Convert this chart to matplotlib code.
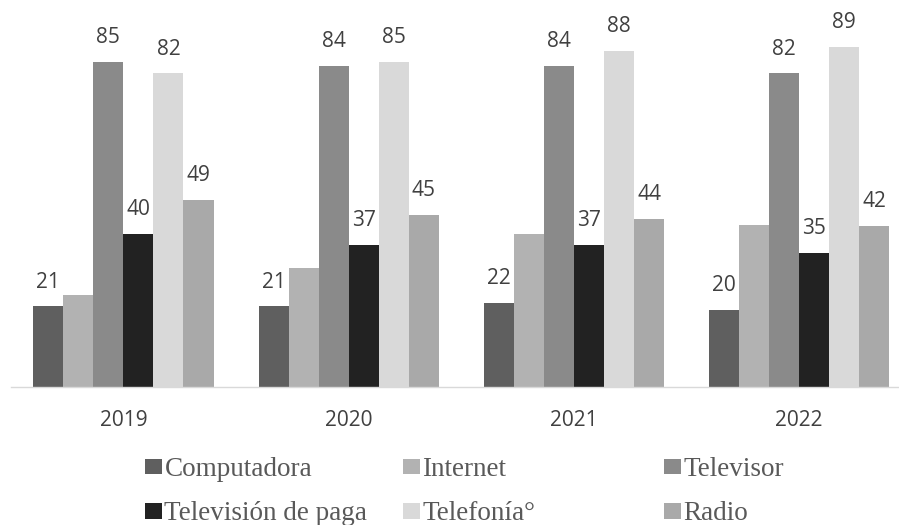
import matplotlib
matplotlib.use("Agg")
import matplotlib.pyplot as plt
from matplotlib.patches import Patch
import numpy as np

years = ["2019", "2020", "2021", "2022"]
series = ["Computadora", "Internet", "Televisor", "Televisión de paga", "Telefonía°", "Radio"]
computadora = [21, 21, 22, 20]
internet = [24, 31.2, 40.1, 42.4]
televisor = [85, 84, 84, 82]
tv_paga = [40, 37, 37, 35]
telefonia = [82, 85, 88, 89]
radio = [49, 45, 44, 42]
values = [computadora, internet, televisor, tv_paga, telefonia, radio]
show_labels = [True, False, True, True, True, True]
colors = ["#5f5f5f", "#b2b2b2", "#8a8a8a", "#222222", "#d9d9d9", "#a9a9a9"]

fig = plt.figure(figsize=(8.99, 5.25), dpi=100)
ax = fig.add_axes([10.8 / 899, 1 - 386.7 / 525, 901 / 899, 382 / 525])

x = np.arange(len(years))
w = 0.8 / len(series)
for i, (vals, c) in enumerate(zip(values, colors)):
    pos = x - 0.4 + w * (i + 0.5)
    ax.bar(pos, vals, width=w, color=c, label=series[i], zorder=2)
    if show_labels[i]:
        for xp, v in zip(pos, vals):
            ax.annotate(f"{v:g}", (xp, v), xytext=(0, 10), textcoords="offset points",
                        ha="center", va="bottom", fontsize=15, color="#404040",
                        family="Open Sans")

ax.set_xlim(-0.5, len(years) - 0.5)
ax.set_ylim(0, 100)
ax.set_xticks(x)
ax.set_xticklabels(years, fontsize=15, color="#404040", family="Open Sans")
ax.tick_params(axis="x", length=0, pad=17)
ax.set_yticks([])
for s in ["top", "left", "right"]:
    ax.spines[s].set_visible(False)
ax.spines["bottom"].set_color("#d9d9d9")
ax.spines["bottom"].set_linewidth(1.0)
ax.spines["bottom"].set_zorder(3)

col_x = [145 / 899, 403 / 899, 664 / 899]
for col in range(3):
    idx = [col, col + 3]
    handles = [Patch(facecolor=colors[k], edgecolor="none") for k in idx]
    labels = [series[k] for k in idx]
    fig.legend(handles, labels, loc="upper left",
               bbox_to_anchor=(col_x[col], 1 - 457 / 525),
               frameon=False, ncol=1, handlelength=0.62, handleheight=0.5,
               handletextpad=0.1, labelspacing=0.72, borderpad=0, borderaxespad=0,
               prop={"family": "Liberation Serif", "size": 19.5}, labelcolor="#595959")

fig.savefig("out.png", dpi=100)
